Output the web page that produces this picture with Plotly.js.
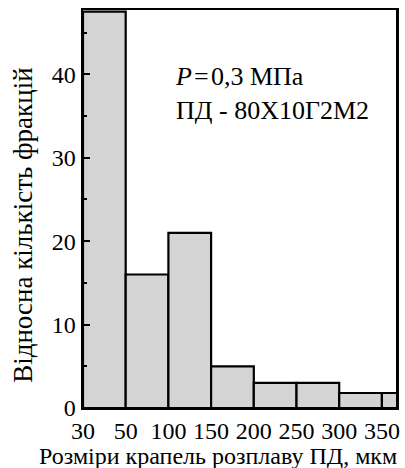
<!DOCTYPE html>
<html>
<head>
<meta charset="utf-8">
<script src="https://cdn.plot.ly/plotly-3.0.1.min.js"></script>
<style>html,body{margin:0;padding:0;background:#fff}#chart{width:405px;height:468px}</style>
</head>
<body>
<div id="chart"></div>
<script>
// Bin edge labels (size of melt droplets, µm)
var edgeLabels = ['30', '50', '100', '150', '200', '250', '300', '350'];
// Relative number of fractions for each bin (first bin runs off the top of the chart)
var fractions = [47.5, 16, 21, 5, 3, 3, 1.8, 1.8];
var xTitle = 'Розміри крапель розплаву ПД, мкм';
var yTitle = 'Відносна кількість фракцій';
var note = '<i>P</i>\u200A=\u200A0,3 МПа<br>ПД - 80Х10Г2М2';

var binCenters = fractions.map(function (v, i) { return i + 0.5; });
var edgePositions = edgeLabels.map(function (v, i) { return i; });

var serif = '"Liberation Serif"';

var trace = {
  type: 'bar',
  x: binCenters,
  y: fractions,
  width: 1,
  marker: { color: '#d4d4d4', line: { color: '#000', width: 2.2 } },
  hoverinfo: 'skip'
};

var layout = {
  width: 405,
  height: 468,
  margin: { l: 83, r: 9, t: 10, b: 60 },
  paper_bgcolor: '#fff',
  plot_bgcolor: '#fff',
  showlegend: false,
  font: { family: serif, color: '#000', size: 23 },
  xaxis: {
    range: [0, 7.33],
    tickvals: edgePositions,
    ticktext: edgeLabels,
    ticks: '',
    showgrid: false,
    zeroline: false,
    showline: true,
    linecolor: '#000',
    linewidth: 2,
    mirror: true,
    tickfont: { family: serif, size: 24, color: '#000' }
  },
  yaxis: {
    range: [0, 47.7],
    tickvals: [0, 10, 20, 30, 40],
    ticks: 'inside',
    ticklen: 7,
    tickwidth: 2,
    tickcolor: '#000',
    minor: { tickvals: [5, 15, 25, 35, 45], ticks: 'inside', ticklen: 4, tickwidth: 2, tickcolor: '#000' },
    showgrid: false,
    zeroline: false,
    showline: true,
    linecolor: '#000',
    linewidth: 2.5,
    mirror: true,
    tickfont: { family: serif, size: 24, color: '#000' }
  },
  annotations: [{
    xref: 'paper', yref: 'paper',
    x: 0.2875, y: 0.79,
    xanchor: 'left', yanchor: 'middle', align: 'left',
    showarrow: false,
    text: note,
    font: { family: serif, size: 26, color: '#000' }
  }, {
    xref: 'paper', yref: 'paper',
    x: 0.43, y: -0.121,
    xanchor: 'center', yanchor: 'middle',
    showarrow: false,
    text: xTitle,
    font: { family: serif, size: 24, color: '#000' }
  }, {
    xref: 'paper', yref: 'paper',
    x: -0.192, y: 0.46,
    xanchor: 'center', yanchor: 'middle',
    textangle: -90,
    showarrow: false,
    text: yTitle,
    font: { family: serif, size: 27, color: '#000' }
  }]
};

Plotly.newPlot('chart', [trace], layout, { staticPlot: true, displayModeBar: false });
</script>
</body>
</html>
